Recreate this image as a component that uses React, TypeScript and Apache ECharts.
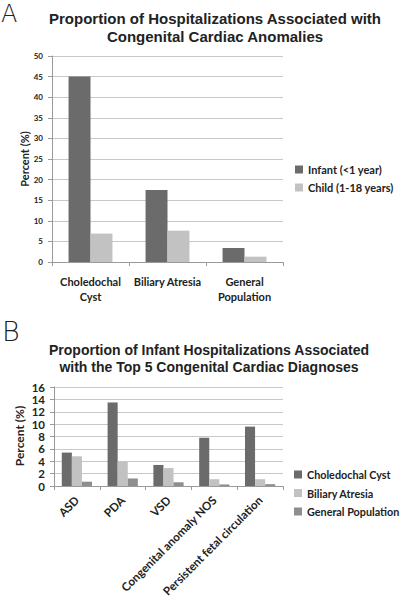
import React, { useEffect, useRef } from "react";
import * as echarts from "echarts";

const catsA = ["Choledochal\nCyst", "Biliary Atresia", "General\nPopulation"];
const infantA = [45, 17.5, 3.4];
const childA = [6.9, 7.6, 1.3];

const catsB = ["ASD", "PDA", "VSD", "Congenital anomaly NOS", "Persistent fetal circulation"];
const choledochalB = [5.4, 13.5, 3.4, 7.8, 9.6];
const biliaryB = [4.8, 3.9, 2.9, 1.1, 1.1];
const generalB = [0.7, 1.2, 0.6, 0.25, 0.3];

const labelFont = "Lato, 'Open Sans', sans-serif";
const titleFont = "'Liberation Sans', Arial, sans-serif";

export default function App() {
  const ref = useRef<HTMLDivElement>(null);
  useEffect(() => {
    document.body.style.margin = "0";
    const chart = echarts.init(ref.current!, null, { renderer: "svg" });
    const axisLine = { lineStyle: { color: "#9a9a9a", width: 1 } };
    const split = { show: true, lineStyle: { color: "#c8c8c8", width: 1 } };
    chart.setOption({
      animation: false,
      backgroundColor: "#fff",
      title: [
        {
          text: "Proportion of Hospitalizations Associated with\nCongenital Cardiac Anomalies",
          left: 210, top: 4, textAlign: "center",
          textStyle: { fontFamily: titleFont, fontWeight: "bold", fontSize: 15, lineHeight: 18, color: "#222" },
        },
        {
          text: "Proportion of Infant Hospitalizations Associated\nwith the Top 5 Congenital Cardiac Diagnoses",
          left: 204, top: 337, textAlign: "center",
          textStyle: { fontFamily: titleFont, fontWeight: "bold", fontSize: 14, lineHeight: 16.5, color: "#222" },
        },
      ],
      graphic: [
        { type: "text", left: 1, top: 2, style: { text: "A", font: "300 24px 'DejaVu Sans', sans-serif", fill: "#222" } },
        { type: "text", left: 2, top: 318, style: { text: "B", font: "300 27px 'DejaVu Sans', sans-serif", fill: "#222" } },
        {
          type: "text", x: 24, y: 159, rotation: Math.PI / 2,
          style: { text: "Percent (%)", align: "center", verticalAlign: "middle", font: "bold 11px Lato, sans-serif", fill: "#222" },
        },
        {
          type: "text", x: 19, y: 436, rotation: Math.PI / 2,
          style: { text: "Percent (%)", align: "center", verticalAlign: "middle", font: "bold 12px Lato, sans-serif", fill: "#222" },
        },
      ],
      legend: [
        {
          data: ["Infant (<1 year)", "Child (1-18 years)"],
          orient: "vertical", left: 295, top: 164, padding: 0, icon: "rect", itemWidth: 8, itemHeight: 8, itemGap: 7,
          textStyle: { fontFamily: labelFont, fontWeight: "bold", fontSize: 11, color: "#222" },
        },
        {
          data: ["Choledochal Cyst", "Biliary Atresia", "General Population"],
          orient: "vertical", left: 294, top: 469, padding: 0, icon: "rect", itemWidth: 8, itemHeight: 8, itemGap: 7.5,
          textStyle: { fontFamily: labelFont, fontWeight: "bold", fontSize: 10.8, color: "#222" },
        },
      ],
      grid: [
        { left: 52, top: 56, width: 231, height: 206, outerBoundsMode: "none" },
        { left: 54, top: 387, width: 229, height: 99, outerBoundsMode: "none" },
      ],
      xAxis: [
        {
          type: "category", gridIndex: 0, data: catsA,
          axisLine, axisTick: { show: true, length: 4, lineStyle: { color: "#9a9a9a" } },
          axisLabel: { margin: 12, fontFamily: labelFont, fontWeight: "bold", fontSize: 11, lineHeight: 15, color: "#222", interval: 0 },
        },
        {
          type: "category", gridIndex: 1, data: catsB,
          axisLine, axisTick: { show: true, length: 4, lineStyle: { color: "#9a9a9a" } },
          axisLabel: { rotate: 45, margin: 12, fontFamily: labelFont, fontWeight: "bold", fontSize: 11.6, color: "#222", interval: 0 },
        },
      ],
      yAxis: [
        {
          type: "value", gridIndex: 0, min: 0, max: 50, interval: 5,
          axisLine: { show: true, lineStyle: { color: "#9a9a9a" } },
          axisTick: { show: true, length: 4, lineStyle: { color: "#9a9a9a" } },
          splitLine: split,
          axisLabel: { margin: 9, fontFamily: labelFont, fontWeight: "bold", fontSize: 8, color: "#222" },
        },
        {
          type: "value", gridIndex: 1, min: 0, max: 16, interval: 2,
          axisLine: { show: true, lineStyle: { color: "#9a9a9a" } },
          axisTick: { show: true, length: 4, lineStyle: { color: "#9a9a9a" } },
          splitLine: split,
          axisLabel: {
            margin: 9, fontFamily: labelFont, fontWeight: "bold", fontSize: 11.5, lineHeight: 10, color: "#222",
            hideOverlap: false, showMinLabel: true, showMaxLabel: true, interval: 0,
          },
        },
      ],
      series: [
        { name: "Infant (<1 year)", type: "bar", xAxisIndex: 0, yAxisIndex: 0, data: infantA, barGap: "0%", barCategoryGap: "43%", itemStyle: { color: "#6b6b6b" } },
        { name: "Child (1-18 years)", type: "bar", xAxisIndex: 0, yAxisIndex: 0, data: childA, itemStyle: { color: "#c2c2c2" } },
        { name: "Choledochal Cyst", type: "bar", xAxisIndex: 1, yAxisIndex: 1, data: choledochalB, barGap: "0%", barCategoryGap: "34%", itemStyle: { color: "#6b6b6b" } },
        { name: "Biliary Atresia", type: "bar", xAxisIndex: 1, yAxisIndex: 1, data: biliaryB, itemStyle: { color: "#c2c2c2" } },
        { name: "General Population", type: "bar", xAxisIndex: 1, yAxisIndex: 1, data: generalB, itemStyle: { color: "#8e8e8e" } },
      ],
    });
    return () => chart.dispose();
  }, []);
  return <div ref={ref} style={{ width: 403, height: 600 }} />;
}
